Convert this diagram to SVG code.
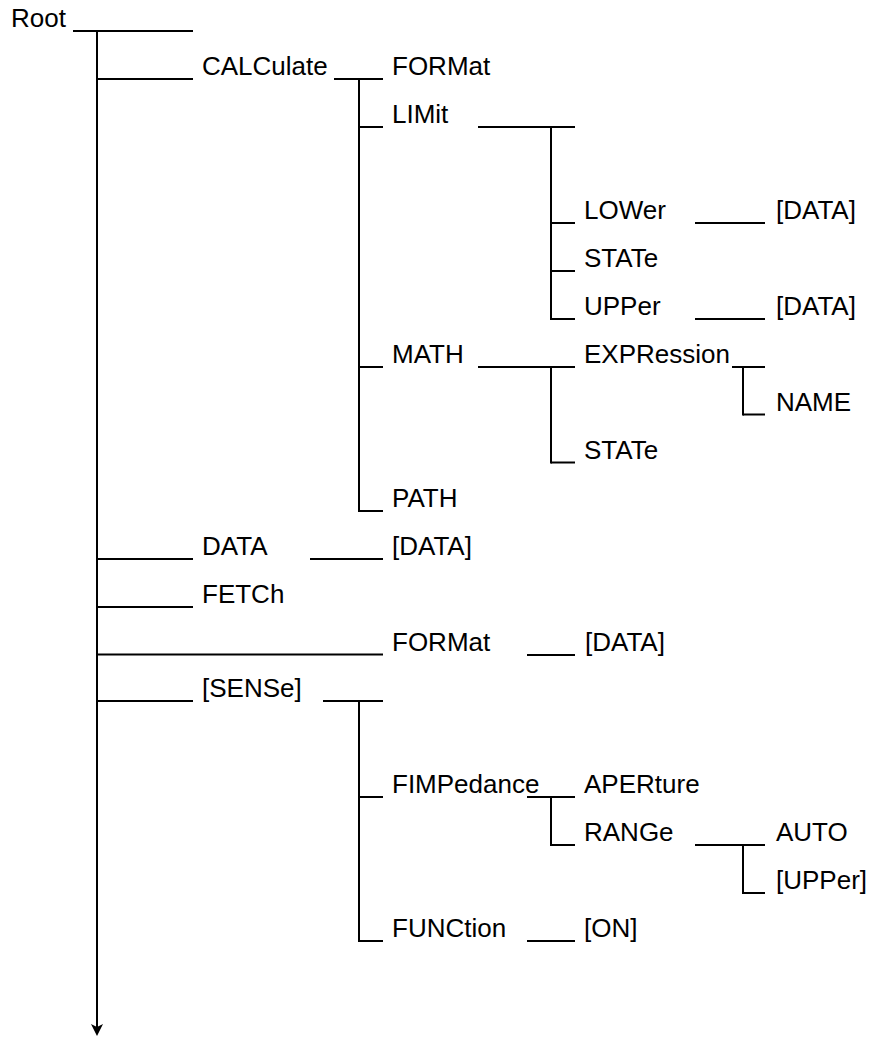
<svg xmlns="http://www.w3.org/2000/svg" width="872" height="1038" viewBox="0 0 872 1038">
<style>
text{font-family:"Liberation Sans",Arial,sans-serif;font-size:26px;fill:#000}
.c line{stroke:#000;stroke-width:2;fill:none}
</style>
<defs>
<marker id="arr" markerUnits="userSpaceOnUse" viewBox="0 0 12 12" refX="6" refY="6" markerWidth="12" markerHeight="12" orient="auto">
<path d="M0,0 L12,6 L0,12 L3,6 Z" fill="#000"/>
</marker>
</defs>
<rect width="872" height="1038" fill="#fff"/>
<g id="connectors" class="c">
<line x1="73" y1="31" x2="193" y2="31"/>
<line x1="97" y1="30" x2="97" y2="1030" marker-end="url(#arr)"/>
<line x1="97" y1="79" x2="193" y2="79"/>
<line x1="334" y1="79" x2="383" y2="79"/>
<line x1="359" y1="78" x2="359" y2="512"/>
<line x1="359" y1="127" x2="383" y2="127"/>
<line x1="478" y1="127" x2="575" y2="127"/>
<line x1="551" y1="126" x2="551" y2="320"/>
<line x1="551" y1="223" x2="575" y2="223"/>
<line x1="551" y1="271" x2="575" y2="271"/>
<line x1="551" y1="319" x2="575" y2="319"/>
<line x1="695" y1="223" x2="765" y2="223"/>
<line x1="695" y1="319" x2="765" y2="319"/>
<line x1="359" y1="367" x2="383" y2="367"/>
<line x1="478" y1="367" x2="575" y2="367"/>
<line x1="551" y1="366" x2="551" y2="463.5"/>
<line x1="551" y1="462.5" x2="575" y2="462.5"/>
<line x1="732" y1="367" x2="765" y2="367"/>
<line x1="743" y1="366" x2="743" y2="415.5"/>
<line x1="743" y1="414.5" x2="765" y2="414.5"/>
<line x1="359" y1="511" x2="383" y2="511"/>
<line x1="97" y1="559" x2="193" y2="559"/>
<line x1="310" y1="559" x2="383" y2="559"/>
<line x1="97" y1="607" x2="193" y2="607"/>
<line x1="97" y1="654.5" x2="383" y2="654.5"/>
<line x1="527" y1="655" x2="575" y2="655"/>
<line x1="97" y1="701" x2="193" y2="701"/>
<line x1="323" y1="701" x2="383" y2="701"/>
<line x1="359" y1="700" x2="359" y2="942"/>
<line x1="359" y1="797" x2="383" y2="797"/>
<line x1="527" y1="797" x2="575" y2="797"/>
<line x1="551" y1="796" x2="551" y2="846"/>
<line x1="551" y1="845" x2="575" y2="845"/>
<line x1="695" y1="845" x2="765" y2="845"/>
<line x1="743" y1="844" x2="743" y2="894"/>
<line x1="743" y1="893" x2="765" y2="893"/>
<line x1="359" y1="941" x2="383" y2="941"/>
<line x1="527" y1="941" x2="575" y2="941"/>
</g>
<g id="n-root"><text x="11" y="27">Root</text></g>
<g id="n-calculate"><text x="202" y="75">CALCulate</text></g>
<g id="n-calc-format"><text x="392" y="75">FORMat</text></g>
<g id="n-limit"><text x="392" y="123">LIMit</text></g>
<g id="n-lower"><text x="584" y="219">LOWer</text></g>
<g id="n-lower-data"><text x="776" y="219">[DATA]</text></g>
<g id="n-limit-state"><text x="584" y="267">STATe</text></g>
<g id="n-upper"><text x="584" y="315">UPPer</text></g>
<g id="n-upper-data"><text x="776" y="315">[DATA]</text></g>
<g id="n-math"><text x="392" y="363">MATH</text></g>
<g id="n-expression"><text x="584" y="363">EXPRession</text></g>
<g id="n-name"><text x="776" y="411">NAME</text></g>
<g id="n-math-state"><text x="584" y="459">STATe</text></g>
<g id="n-path"><text x="392" y="507">PATH</text></g>
<g id="n-data"><text x="202" y="555">DATA</text></g>
<g id="n-data-data"><text x="392" y="555">[DATA]</text></g>
<g id="n-fetch"><text x="202" y="603">FETCh</text></g>
<g id="n-format"><text x="392" y="651">FORMat</text></g>
<g id="n-format-data"><text x="585" y="651">[DATA]</text></g>
<g id="n-sense"><text x="202" y="697">[SENSe]</text></g>
<g id="n-fimpedance"><text x="392" y="793">FIMPedance</text></g>
<g id="n-aperture"><text x="584" y="793">APERture</text></g>
<g id="n-range"><text x="584" y="841">RANGe</text></g>
<g id="n-auto"><text x="776" y="841">AUTO</text></g>
<g id="n-upper2"><text x="776" y="889">[UPPer]</text></g>
<g id="n-function"><text x="392" y="937">FUNCtion</text></g>
<g id="n-on"><text x="584" y="937">[ON]</text></g>
</svg>
